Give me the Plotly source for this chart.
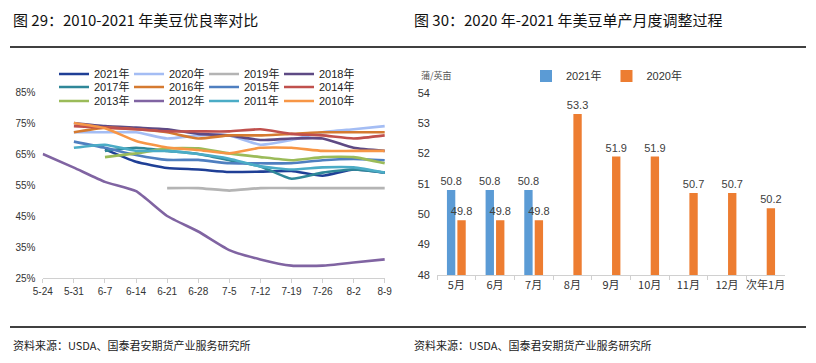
import plotly.graph_objects as go

W, H = 816, 363
OFF = 8  # page body margin of the browser
FW, FH = W - OFF, H - OFF

# ---------------- data: left chart ----------------
weeks = ["5-24", "5-31", "6-7", "6-14", "6-21", "6-28", "7-5", "7-12", "7-19", "7-26", "8-2", "8-9"]
y2021 = [None, None, 66.5, 62.5, 60.5, 60, 59.2, 59.3, 59.5, 58, 60, 59]
y2020 = [None, 72, 72, 72, 70, 71, 71, 68, 69.5, 72, 73, 74]
y2019 = [None, None, None, None, 54, 54, 53.2, 54, 54, 54, 54, 54]
y2018 = [None, 75, 74, 73.5, 73, 71.5, 71, 69.5, 70, 70, 67, 66]
y2017 = [None, None, 66, 67, 66, 65, 63, 61, 57, 59, 60, 59]
y2016 = [None, 72, 73.5, 73, 72, 70, 71, 71, 71.5, 72, 72, 72]
y2015 = [None, 69, 67, 64.7, 63.1, 63.1, 62, 62, 62, 63, 63.4, 63]
y2014 = [None, 74, 73.5, 73, 72.3, 72.3, 72.3, 73, 71.5, 71, 70, 71]
y2013 = [None, None, 64, 65.2, 66.8, 66.8, 65.2, 64, 63, 64, 64, 62]
y2012 = [65, 60.6, 56, 53, 45, 40, 34, 31, 29, 29, 30, 31]
y2011 = [None, 67, 68, 66, 66, 65, 63.5, 61, 60, 60.7, 60.7, 59]
y2010 = [None, 75, 73.3, 69.2, 67.1, 66.3, 65.2, 67, 67, 66, 66, 66]

line_series = [
    ("2021年", y2021, "#1f3f96", "legend"),
    ("2020年", y2020, "#a4bdf4", "legend"),
    ("2019年", y2019, "#b4b4b4", "legend"),
    ("2018年", y2018, "#5e4a84", "legend"),
    ("2017年", y2017, "#2f8798", "legend3"),
    ("2016年", y2016, "#d57a30", "legend3"),
    ("2015年", y2015, "#4f7fc0", "legend3"),
    ("2014年", y2014, "#c0504d", "legend3"),
    ("2013年", y2013, "#9bbb59", "legend4"),
    ("2012年", y2012, "#8064a2", "legend4"),
    ("2011年", y2011, "#4bacc6", "legend4"),
    ("2010年", y2010, "#f79646", "legend4"),
]
pct_ticks = [25, 35, 45, 55, 65, 75, 85]
pct_labels = ["25%", "35%", "45%", "55%", "65%", "75%", "85%"]

# ---------------- data: right chart ----------------
months = ["5月", "6月", "7月", "8月", "9月", "10月", "11月", "12月", "次年1月"]
yield2021 = [50.8, 50.8, 50.8, None, None, None, None, None, None]
yield2020 = [49.8, 49.8, 49.8, 53.3, 51.9, 51.9, 50.7, 50.7, 50.2]
yield_ticks = [48, 49, 50, 51, 52, 53, 54]

fig = go.Figure()

for name, ys, col, lg in line_series:
    fig.add_trace(go.Scatter(
        x=weeks, y=ys, name=name, mode="lines",
        line=dict(color=col, width=2.6, shape="spline", smoothing=0.5),
        connectgaps=False, xaxis="x", yaxis="y", legend=lg,
    ))

def lbl(v):
    return None if v is None else f"{v:.1f}"

for name, ys, col in (("2021年", yield2021, "#5b9bd5"), ("2020年", yield2020, "#ed7d31")):
    fig.add_trace(go.Bar(
        x=months, y=ys, name=name, marker_color=col, marker_line_width=0,
        text=[lbl(v) for v in ys], textposition="outside", constraintext="none",
        textfont=dict(size=11, color="#404040"), cliponaxis=False,
        xaxis="x2", yaxis="y2", legend="legend2",
    ))

# convert page pixel positions to paper fractions (figure sits 8px in from the page corner)
def px_x(p):
    return (p - OFF) / FW

def px_y(p):
    return 1 - (p - OFF) / FH

font_main = "Liberation Sans, Arial, Noto Sans CJK SC, sans-serif"
font_cjk = "Noto Sans CJK SC, sans-serif"

legend_common = dict(
    orientation="h", xanchor="left", yanchor="middle",
    font=dict(size=11, color="#222", family=font_main),
    bgcolor="rgba(0,0,0,0)", entrywidth=30, entrywidthmode="pixels",
    itemwidth=30, tracegroupgap=0, traceorder="normal",
)

fig.update_layout(
    template="none",
    width=FW, height=FH,
    margin=dict(l=0, r=0, t=0, b=0, autoexpand=False),
    paper_bgcolor="white", plot_bgcolor="white",
    font=dict(family=font_main, size=10, color="#333"),
    barmode="group", bargap=0.46, bargroupgap=0.2,
    legend=dict(x=px_x(54), y=px_y(74), **legend_common),
    legend3=dict(x=px_x(54), y=px_y(87), **legend_common),
    legend4=dict(x=px_x(54), y=px_y(101), **legend_common),
    legend2=dict(x=px_x(526), y=px_y(76), orientation="h", xanchor="left", yanchor="middle",
                 font=dict(size=11, color="#333", family=font_main),
                 bgcolor="rgba(0,0,0,0)", itemwidth=30),
    xaxis=dict(
        domain=[px_x(42.5), px_x(385)], type="category", range=[-0.01, 11.01],
        showgrid=False, showline=True, linecolor="#d0d0d0", linewidth=1,
        ticks="outside", ticklen=4, tickcolor="#d0d0d0", tickson="labels",
        tickfont=dict(size=10, color="#333"), anchor="y", zeroline=False, tickangle=0,
        automargin=False,
    ),
    yaxis=dict(
        domain=[px_y(278), px_y(92)], range=[25, 85], tickvals=pct_ticks, ticktext=pct_labels,
        showgrid=False, showline=False, zeroline=False, ticks="",
        tickfont=dict(size=10, color="#333"), anchor="x", ticklabelstandoff=6,
        automargin=False,
    ),
    xaxis2=dict(
        domain=[px_x(437), px_x(785)], type="category",
        showgrid=False, showline=True, linecolor="#d0d0d0", linewidth=1,
        ticks="outside", ticklen=4, tickcolor="#d0d0d0", tickson="boundaries",
        tickfont=dict(size=11, color="#333", family=font_cjk), anchor="y2", tickangle=0,
        automargin=False,
    ),
    yaxis2=dict(
        domain=[px_y(275), px_y(92.7)], range=[48, 54], tickvals=yield_ticks,
        showgrid=False, showline=False, zeroline=False, ticks="",
        tickfont=dict(size=11, color="#333"), anchor="x2", ticklabelstandoff=6,
        automargin=False,
    ),
)

ann = [
    dict(text="图 29：2010-2021 年美豆优良率对比", x=px_x(12), y=1, yanchor="top",
         font=dict(size=15, color="#111", family=font_cjk)),
    dict(text="图 30：2020 年-2021 年美豆单产月度调整过程", x=px_x(413), y=1, yanchor="top",
         font=dict(size=15, color="#111", family=font_cjk)),
    dict(text="蒲/英亩", x=px_x(420), y=px_y(76), yanchor="middle",
         font=dict(size=9, color="#555", family=font_cjk)),
    dict(text="资料来源：USDA、国泰君安期货产业服务研究所", x=px_x(12), y=px_y(345), yanchor="middle",
         font=dict(size=11, color="#222", family=font_cjk)),
    dict(text="资料来源：USDA、国泰君安期货产业服务研究所", x=px_x(413), y=px_y(345), yanchor="middle",
         font=dict(size=11, color="#222", family=font_cjk)),
]
for a in ann:
    fig.add_annotation(xref="paper", yref="paper", xanchor="left", borderpad=0,
                       showarrow=False, **a)

for yy in (47, 327):
    fig.add_shape(type="line", xref="paper", yref="paper",
                  x0=px_x(10), x1=px_x(806), y0=px_y(yy), y1=px_y(yy),
                  line=dict(color="#000", width=1.5))

fig.write_html("out.html")
